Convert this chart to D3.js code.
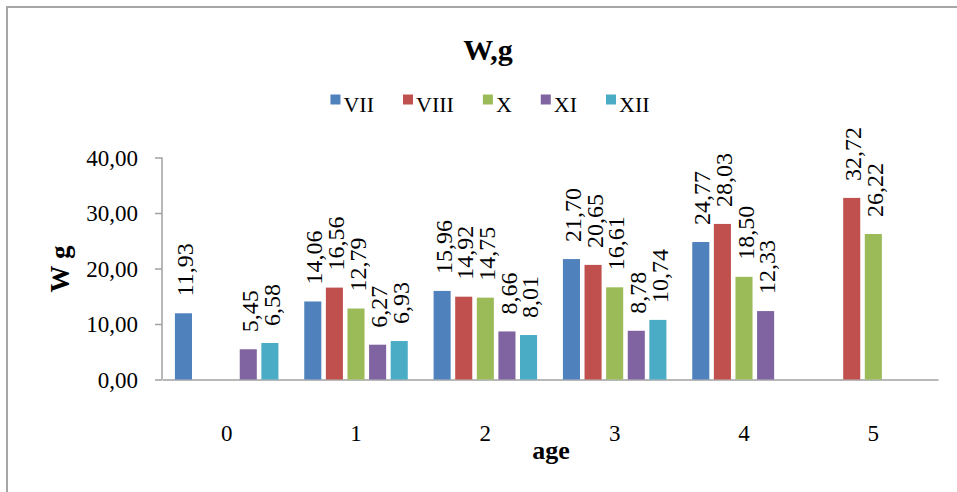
<!DOCTYPE html>
<html>
<head>
<meta charset="utf-8">
<script src="https://cdn.jsdelivr.net/npm/d3@7/dist/d3.min.js"></script>
<style>
  html, body { margin: 0; padding: 0; background: #fff; }
  svg { display: block; }
  text { font-family: "Liberation Serif", "Times New Roman", serif; fill: #000; }
</style>
</head>
<body>
<svg id="chart" width="957" height="492"></svg>
<script>
// Age groups on the x axis
const ages = ["0", "1", "2", "3", "4", "5"];
// Series (sampling months) and their colours
const seriesNames = ["VII", "VIII", "X", "XI", "XII"];
const seriesColors = ["#4F81BD", "#C0504D", "#9BBB59", "#8064A2", "#4BACC6"];
// Mean weight W, g per age group (null = no sample)
const valuesVII  = [11.93, 14.06, 15.96, 21.70, 24.77, null];
const valuesVIII = [null, 16.56, 14.92, 20.65, 28.03, 32.72];
const valuesX    = [null, 12.79, 14.75, 16.61, 18.50, 26.22];
const valuesXI   = [5.45, 6.27, 8.66, 8.78, 12.33, null];
const valuesXII  = [6.58, 6.93, 8.01, 10.74, null, null];
const yTicks = [0, 10, 20, 30, 40];

const seriesValues = [valuesVII, valuesVIII, valuesX, valuesXI, valuesXII];
const fmt = v => v.toFixed(2).replace(".", ",");
const serif = "\"Liberation Serif\", \"Times New Roman\", serif";

const svg = d3.select("#chart");

// chart frame
svg.append("rect")
  .attr("x", 7).attr("y", 7)
  .attr("width", 980).attr("height", 520)
  .attr("fill", "none")
  .attr("stroke", "#a6a6a6")
  .attr("stroke-width", 2);

const plot = { left: 162, right: 938, top: 157.5, bottom: 379.5 };

const x0 = d3.scaleBand().domain(ages).range([plot.left, plot.right]).padding(0);
const groupWidth = 103.5;
const x1 = d3.scaleBand().domain(seriesNames).range([0, groupWidth]).paddingInner(0.21).paddingOuter(0);
const y = d3.scaleLinear().domain([0, 40]).range([plot.bottom, plot.top]);

// title
svg.append("text")
  .attr("x", 488).attr("y", 60)
  .attr("text-anchor", "middle")
  .attr("font-size", 30).attr("font-weight", "bold")
  .text("W,g");

// legend
const legend = svg.append("g").attr("class", "legend");
const legendFont = 22;
const items = [];
seriesNames.forEach((name, i) => {
  const g = legend.append("g");
  g.append("rect")
    .attr("x", 0).attr("y", -10.5)
    .attr("width", 10).attr("height", 10)
    .attr("fill", seriesColors[i]);
  const t = g.append("text")
    .attr("x", 13).attr("y", 0)
    .attr("dy", "0.33em")
    .attr("font-size", legendFont)
    .text(name);
  const w = 13 + t.node().getComputedTextLength();
  items.push({ g, w });
});
const legendGap = 29;
const totalW = d3.sum(items, d => d.w) + legendGap * (items.length - 1);
let lx = 490 - totalW / 2;
items.forEach(it => {
  it.g.attr("transform", `translate(${lx},105)`);
  lx += it.w + legendGap;
});

// y axis
const yAxis = d3.axisLeft(y).tickValues(yTicks).tickSize(7).tickPadding(17).tickFormat(fmt);
const yg = svg.append("g")
  .attr("transform", `translate(${plot.left},0)`)
  .call(yAxis);
yg.select(".domain").attr("stroke", "#a0a0a0").attr("stroke-width", 1.5)
  .attr("d", `M0,${plot.top}V${plot.bottom}`);
yg.selectAll(".tick line").attr("stroke", "#a0a0a0").attr("stroke-width", 1.5);
yg.selectAll(".tick text")
  .attr("font-size", 23)
  .attr("font-family", serif)
  .attr("fill", "#000")
  .attr("dy", "0.34em");

// x axis
const xAxis = d3.axisBottom(x0).tickSize(0).tickPadding(61);
const xg = svg.append("g")
  .attr("transform", `translate(0,${plot.bottom})`)
  .call(xAxis);
xg.select(".domain").attr("stroke", "#a0a0a0").attr("stroke-width", 1.5);
xg.selectAll(".tick text")
  .attr("font-size", 23)
  .attr("font-family", serif)
  .attr("fill", "#000")
  .attr("dy", "0");

// axis titles
svg.append("text")
  .attr("x", 551).attr("y", 459)
  .attr("text-anchor", "middle")
  .attr("font-size", 26).attr("font-weight", "bold")
  .text("age");

svg.append("text")
  .attr("transform", `translate(69,269) rotate(-90)`)
  .attr("text-anchor", "middle")
  .attr("font-size", 27).attr("font-weight", "bold")
  .text("W g");

// bars and value labels
const bars = [];
ages.forEach((age, ai) => {
  seriesNames.forEach((name, si) => {
    const v = seriesValues[si][ai];
    if (v == null) return;
    bars.push({ age, name, si, v });
  });
});

const groupOffset = (x0.bandwidth() - groupWidth) / 2;
const barX = d => x0(d.age) + groupOffset + x1(d.name);

svg.append("g").selectAll("rect")
  .data(bars)
  .join("rect")
  .attr("x", barX)
  .attr("y", d => y(d.v))
  .attr("width", x1.bandwidth())
  .attr("height", d => y(0) - y(d.v))
  .attr("fill", d => seriesColors[d.si]);

svg.append("g").selectAll("text")
  .data(bars)
  .join("text")
  .attr("transform", d => `translate(${barX(d) + x1.bandwidth() / 2 + 1.5},${y(d.v) - 17}) rotate(-90)`)
  .attr("dy", "0.34em")
  .attr("font-size", 24)
  .attr("font-family", serif)
  .text(d => fmt(d.v));
</script>
</body>
</html>
